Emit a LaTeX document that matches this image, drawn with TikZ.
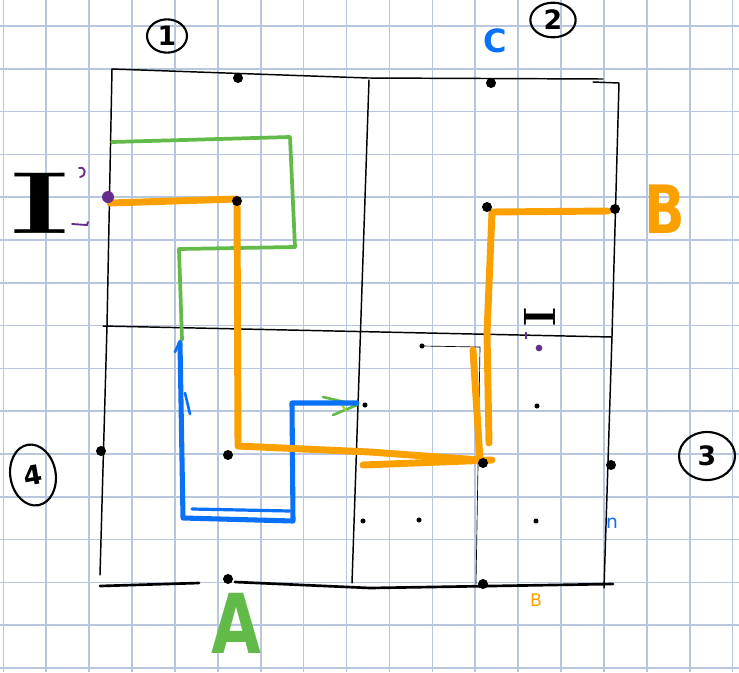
\documentclass[tikz,border=0pt]{standalone}
\usepackage{fontspec}
\usetikzlibrary{shapes.geometric}
\newfontfamily\handfont{DejaVu Sans}
\definecolor{gridblue}{RGB}{184,198,222}
\definecolor{pathorange}{RGB}{250,160,0}
\definecolor{pathblue}{RGB}{10,112,245}
\definecolor{pathgreen}{RGB}{98,186,72}
\definecolor{markpurple}{RGB}{100,44,140}
\tikzset{every picture/.style={line width=0.75pt}}
\tikzset{
  frame/.style={black, line width=1.1pt, line cap=round, line join=round},
  orangepath/.style={pathorange, line width=5.2pt, line cap=round, line join=round},
  bluepath/.style={pathblue, line width=3.8pt, line cap=round, line join=round},
  greenpath/.style={pathgreen, line width=2.8pt, line cap=round, line join=round},
  bigdot/.style={circle, fill=black, inner sep=0pt, minimum size=7.5pt},
  smalldot/.style={circle, fill=black, inner sep=0pt, minimum size=3.8pt},
  roundnum/.style={ellipse, draw, line width=1.6pt, inner sep=0pt, font=\handfont\fontsize{20}{22}\selectfont}
}

\begin{document}
\begin{tikzpicture}[x=0.75pt,y=0.75pt,yscale=-1,xscale=1]
\useasboundingbox (0,0) rectangle (739,672);
\fill[white] (0,0) rectangle (739,672);

%Grid paper
\foreach \i in {0,...,17}
  \draw[gridblue, line width=1.2pt] ({3.3+42.9*\i},0) -- ({3.3+42.9*\i},672);
\foreach \j in {0,...,15}
  \draw[gridblue, line width=1.2pt] (0,{26+42.8*\j}) -- (739,{26+42.8*\j});

%Straight Lines: outer frame
\draw[frame] (112,69) -- (368,78) -- (603,79);
\draw[frame] (593,82) -- (619,83) -- (612,336) -- (604,588);
\draw[frame] (112,69) -- (107,326) -- (100,575);
\draw[frame, line width=2pt] (100,586) -- (199,583);
\draw[frame, line width=2pt] (235,582) -- (370,588) -- (613,584);
%Straight Lines: inner cross
\draw[frame] (103,326) -- (612,337);
\draw[frame] (369,80) -- (352,583);
\draw[black, line width=0.5pt] (422,346) -- (480,347) -- (476,584);

%Green path
\draw[greenpath] (112,142) -- (290,137) -- (295,247) -- (179,249) -- (182,340);
\draw[greenpath, line width=2pt] (323,397) -- (357,405) -- (333,415);
\draw[pathgreen!60!yellow, line width=1.5pt] (340,402) -- (346,411);

%Blue path
\draw[bluepath] (180,343) -- (183,518) -- (293,521) -- (292,403) -- (357,403);
\draw[bluepath, line width=2.4pt] (192,509) -- (290,511);
\draw[bluepath, line width=2pt] (175,352) -- (180,341);
\draw[bluepath, line width=2pt] (185,393) -- (190,414);

%Orange path
\draw[orangepath] (110,203) -- (237,199) -- (238,446) -- (370,452) -- (480,460);
\draw[orangepath] (363,465) -- (492,460);
\draw[orangepath] (473,350) -- (480,460);
\draw[orangepath] (489,443) -- (487,333) -- (492,212) -- (608,211);

%Dots
\node[bigdot] (dtop) at (238,78) {};
\node[bigdot] (dc) at (491,83) {};
\node[bigdot] (dturn) at (237,201) {};
\node[bigdot] (dright) at (487,207) {};
\node[bigdot] (db) at (615,209) {};
\node[bigdot] (dleft) at (101,451) {};
\node[bigdot] (dmid) at (228,455) {};
\node[bigdot] (da) at (228,579) {};
\node[bigdot] (dcross) at (483,463) {};
\node[bigdot] (dedge) at (611,465) {};
\node[bigdot] (dbottom) at (483,584) {};
\node[smalldot] (s1) at (422,346) {};
\node[smalldot] (s2) at (365,405) {};
\node[smalldot] (s3) at (537,406) {};
\node[smalldot] (s4) at (363,521) {};
\node[smalldot] (s5) at (419,520) {};
\node[smalldot] (s6) at (536,521) {};
\node[circle, fill=markpurple, inner sep=0pt, minimum size=9pt] (pstart) at (108,197) {};
\node[circle, fill=markpurple, inner sep=0pt, minimum size=5pt] (pend) at (539,348) {};

%Purple marks
\draw[markpurple, line width=1.4pt, line cap=round] (79,168) .. controls (86,166) and (87,176) .. (80,177);
\draw[markpurple, line width=1.4pt, line cap=round] (72,224) -- (87,225) -- (88,222);
\draw[markpurple, line width=1pt] (526,332) -- (526,339);

% Text Node
\node[roundnum] (one) at (167,36) [minimum width=30pt, minimum height=25pt] {\textbf{1}};
% Text Node
\node[roundnum] (two) at (553,20) [minimum width=34pt, minimum height=26pt] {\textbf{2}};
% Text Node
\node[roundnum] (three) at (707,456) [minimum width=42pt, minimum height=36pt] {\textbf{3}};
% Text Node
\node[roundnum, rotate=10] (four) at (33,475) [minimum width=34pt, minimum height=46pt] {\textbf{4}};
% Text Node
\node[xscale=1.6, font=\bfseries\fontsize{66}{70}\selectfont] (bigi) at (40,203) {I};
% Text Node
\node[rotate=90, font=\bfseries\fontsize{34}{36}\selectfont] (smalli) at (540,317) {I};
% Text Node
\node[pathblue, font=\handfont\bfseries\fontsize{24}{26}\selectfont] (labc) at (495,41) {C};
% Text Node
\node[pathorange, xscale=0.8, font=\handfont\bfseries\fontsize{50}{52}\selectfont] (labb) at (665,209) {B};
% Text Node
\node[pathgreen, xscale=0.78, inner sep=0pt, font=\handfont\bfseries\fontsize{62}{64}\selectfont] (laba) at (236,623) {A};
% Text Node
\node[pathorange, font=\handfont\fontsize{13}{14}\selectfont] (labb2) at (536,600) {B};
% Text Node
\node[pathblue, font=\handfont\fontsize{14}{15}\selectfont] (labn) at (612,523) {n};
\end{tikzpicture}
\end{document}
